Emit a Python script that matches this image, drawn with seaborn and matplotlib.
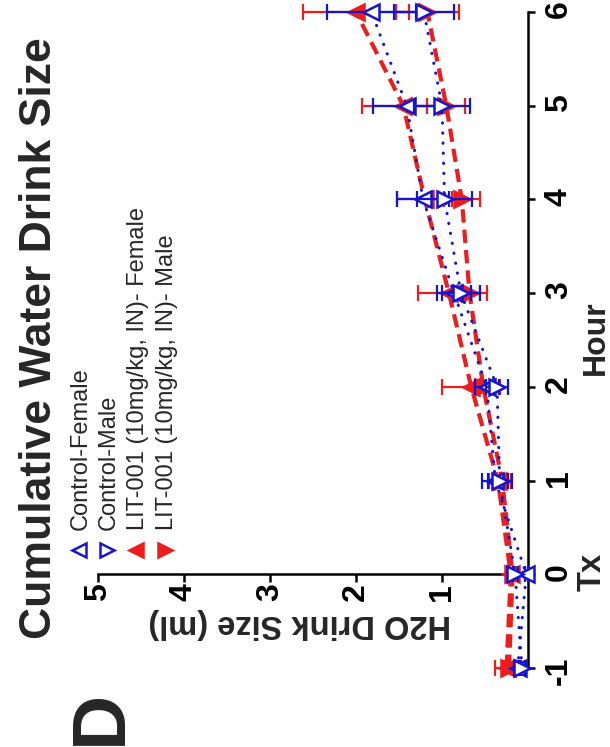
import matplotlib
matplotlib.use("Agg")
import matplotlib.pyplot as plt
import seaborn as sns
from matplotlib.lines import Line2D

# ---------------- data ----------------
hours = [-1, 0, 1, 2, 3, 4, 5, 6]
hour_labels = ["-1", "0", "1", "2", "3", "4", "5", "6"]
value_ticks = [1, 2, 3, 4, 5]
value_labels = ["1", "2", "3", "4", "5"]
series_names = ["Control-Female", "Control-Male",
                "LIT-001 (10mg/kg, IN)- Female", "LIT-001 (10mg/kg, IN)- Male"]

ctrl_f_mean = [0.12, 0.02, 0.38, 0.48, 0.86, 1.22, 1.41, 1.82]
ctrl_f_sem = [0.04, 0.02, 0.15, 0.14, 0.20, 0.30, 0.39, 0.52]
ctrl_m_mean = [0.07, 0.15, 0.33, 0.36, 0.78, 0.97, 1.00, 1.21]
ctrl_m_sem = [0.03, 0.03, 0.14, 0.13, 0.22, 0.32, 0.33, 0.35]
lit_f_mean = [0.25, 0.20, 0.35, 0.66, 0.92, 1.20, 1.45, 2.00]
lit_f_sem = [0.13, 0.05, 0.10, 0.34, 0.36, 0.32, 0.48, 0.62]
lit_m_mean = [0.22, 0.18, 0.30, 0.52, 0.68, 0.77, 0.95, 1.17]
lit_m_sem = [0.06, 0.04, 0.10, 0.10, 0.20, 0.21, 0.22, 0.37]

title = "Cumulative Water Drink Size"
value_label = "H2O Drink Size (ml)"
hour_label = "Hour"
panel = "D"

# ---------------- style ----------------
sns.set_theme(style="white")
plt.rcParams["font.family"] = ["Liberation Sans", "DejaVu Sans"]

W, H = 610, 747
fig = plt.figure(figsize=(W / 100, H / 100), dpi=100)


def fx(px):
    return px / W


def fy(py):
    return 1 - py / H


ax = fig.add_axes([fx(98), fy(668), fx(528) - fx(98), fy(12) - fy(668)])

BLUE = "#1515d0"
RED = "#ee1c1c"

series = [
    # name, mean, sem, color, marker, filled, linestyle
    (series_names[2], lit_f_mean, lit_f_sem, RED, "<", True, (0, (3.2, 1.7))),
    (series_names[3], lit_m_mean, lit_m_sem, RED, ">", True, (0, (3.2, 1.7))),
    (series_names[0], ctrl_f_mean, ctrl_f_sem, BLUE, "<", False, (0, (0.1, 3.2))),
    (series_names[1], ctrl_m_mean, ctrl_m_sem, BLUE, ">", False, (0, (0.1, 3.2))),
]

z = 3
for name, mean, sem, col, mk, filled, ls in series:
    ax.errorbar(mean, hours, xerr=sem, fmt="none", ecolor=col, elinewidth=1.6,
                capsize=5.5, capthick=1.6, zorder=z, clip_on=False)
    lw = 3.0 if filled else 2.2
    sns.lineplot(x=mean, y=hours, orient="y", sort=False, ax=ax, color=col,
                 linestyle=ls, linewidth=lw,
                 dash_capstyle="round" if not filled else "butt",
                 marker=mk, markersize=12,
                 markerfacecolor=col if filled else "white",
                 markeredgecolor=col, markeredgewidth=1.8,
                 zorder=z + 1, clip_on=False, errorbar=None)
    z += 2

ax.set_xlim(5, 0)
ax.set_ylim(-1, 6)

for s in ["top", "left"]:
    ax.spines[s].set_visible(False)
ax.spines["bottom"].set_position(("data", 0))
for s in ["bottom", "right"]:
    ax.spines[s].set_color("black")
    ax.spines[s].set_linewidth(1.8)

ax.yaxis.tick_right()
ax.set_yticks(hours)
ax.set_yticklabels(hour_labels, rotation=90, fontsize=23, fontweight="bold")
ax.set_xticks(value_ticks)
ax.set_xticklabels(value_labels, rotation=90, fontsize=23, fontweight="bold")
ax.tick_params(axis="y", which="both", direction="out", length=5, width=1.8,
               pad=6.5, colors="black", left=False, right=True)
ax.tick_params(axis="x", which="both", direction="out", length=6, width=1.8,
               pad=0.5, colors="black", bottom=True)
ax.set_xlabel("")
ax.set_ylabel("")
ax.grid(False)

# axis titles
fig.text(fx(300), fy(615), value_label, rotation=180, rotation_mode="anchor",
         ha="center", va="baseline", fontsize=23.5, fontweight="bold")
fig.text(fx(604), fy(338), hour_label, rotation=90, rotation_mode="anchor",
         ha="center", va="baseline", fontsize=23, fontweight="bold")
fig.text(fx(601), fy(572), "Tx", rotation=90, rotation_mode="anchor",
         ha="center", va="baseline", fontsize=23.5, fontweight="bold")

# title and panel letter
fig.text(fx(51), fy(639), title, rotation=90, rotation_mode="anchor",
         ha="left", va="baseline", fontsize=32, fontweight="bold")
fig.text(fx(121), fy(745), panel, rotation=90, rotation_mode="anchor",
         ha="left", va="baseline", fontsize=55, fontweight="bold")

# legend (rotated)
leg_x = [87, 115, 144, 173]
leg_specs = [(BLUE, "<", False), (BLUE, ">", False), (RED, "<", True), (RED, ">", True)]
for xb, name, (col, mk, filled) in zip(leg_x, series_names, leg_specs):
    fig.add_artist(Line2D([fx(xb - 8)], [fy(550)], transform=fig.transFigure,
                          marker=mk, markersize=10, linestyle="none",
                          markerfacecolor=col if filled else "white",
                          markeredgecolor=col, markeredgewidth=1.8))
    fig.text(fx(xb), fy(530), name, rotation=90, rotation_mode="anchor",
             ha="left", va="baseline", fontsize=17)

fig.savefig("out.png", dpi=100)
